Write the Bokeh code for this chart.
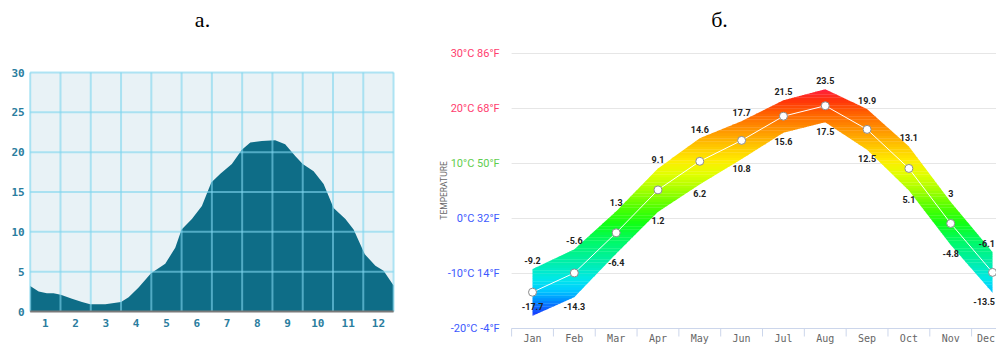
import numpy as np
from bokeh.plotting import figure
from bokeh.layouts import row
from bokeh.models import Range1d, ColumnDataSource
from bokeh.core.properties import value
from bokeh.embed import file_html
from bokeh.resources import INLINE

# ---------------- Chart "а." : water temperature ----------------
water_month = [0.0, 0.28, 0.55, 0.77, 1.01, 1.38, 1.71, 1.98, 2.48, 3.0, 3.25, 3.58,
               3.99, 4.46, 4.79, 5.0, 5.34, 5.67, 5.98, 6.28, 6.66, 6.99, 7.27, 7.65,
               8.09, 8.42, 8.76, 9.0, 9.36, 9.69, 10.02, 10.41, 10.68, 11.05, 11.4, 11.67, 12.0]
water_temp = [3.2, 2.5, 2.3, 2.3, 2.1, 1.6, 1.2, 0.9, 0.9, 1.2, 1.8, 3.0,
              4.8, 6.0, 8.0, 10.3, 11.6, 13.25, 16.2, 17.3, 18.5, 20.3, 21.2, 21.4,
              21.5, 21.0, 19.5, 18.5, 17.6, 16.0, 13.0, 11.6, 10.3, 7.2, 5.75, 5.1, 3.25]
a_month_labels = ["1", "2", "3", "4", "5", "6", "7", "8", "9", "10", "11", "12"]
a_y_ticks = [0, 5, 10, 15, 20, 25, 30]

# ---------------- Chart "б." : air temperature ----------------
months = ["Jan", "Feb", "Mar", "Apr", "May", "Jun", "Jul", "Aug", "Sep", "Oct", "Nov", "Dec"]
t_high = [-9.2, -5.6, 1.3, 9.1, 14.6, 17.7, 21.5, 23.5, 19.9, 13.1, 3.0, -6.1]
t_low = [-17.7, -14.3, -6.4, 1.2, 6.2, 10.8, 15.6, 17.5, 12.5, 5.1, -4.8, -13.5]
t_mean = [-13.4, -9.9, -2.6, 5.2, 10.4, 14.2, 18.6, 20.5, 16.2, 9.1, -0.9, -9.8]
b_y_ticks = [-20, -10, 0, 10, 20, 30]
b_y_labels = ["-20°C -4°F", "-10°C 14°F", "0°C 32°F", "10°C 50°F", "20°C 68°F", "30°C 86°F"]


def bare_fig(w, h, xr, yr):
    p = figure(width=w, height=h, output_backend="svg", toolbar_location=None, title=None,
               x_axis_location=None, y_axis_location=None,
               x_range=Range1d(*xr), y_range=Range1d(*yr),
               min_border=0, min_border_left=0, min_border_right=0,
               min_border_top=0, min_border_bottom=0)
    p.outline_line_color = None
    p.background_fill_color = "white"
    p.border_fill_color = "white"
    p.grid.visible = False
    return p


# ======================= figure а =======================
W1, H = 420, 344
A_X0, A_PXM = 29.7, 30.28        # pixel of month 0, pixels per month
A_Y0, A_PXU = 311.0, 239.0 / 30  # pixel of 0 °C, pixels per degree
p1 = bare_fig(W1, H, (-A_X0 / A_PXM, (W1 - A_X0) / A_PXM),
              (-(H - A_Y0) / A_PXU, A_Y0 / A_PXU))
TEAL_TXT = "#2a7d9e"

p1.quad(left=0, right=12, bottom=0, top=30, fill_color="#e8f2f6", line_color=None)
p1.varea(x=water_month, y1=0, y2=water_temp, fill_color="#0e6d87")

gx = list(range(13))
p1.segment(x0=gx, y0=[0] * 13, x1=gx, y1=[30] * 13, line_color="#7fd6ee",
           line_alpha=0.6, line_width=2)
gy = a_y_ticks[1:]
p1.segment(x0=[0] * len(gy), y0=gy, x1=[12] * len(gy), y1=gy, line_color="#7fd6ee",
           line_alpha=0.6, line_width=2)
p1.segment(x0=[0], y0=[0], x1=[12], y1=[0], line_color="#7a7a7a", line_width=2)

p1.text(x=[i + 0.5 for i in range(12)], y=[-11.0 / A_PXU] * 12, text=a_month_labels,
        text_font=value("DejaVu Sans Mono"), text_font_style="bold", text_font_size="11px",
        text_color=TEAL_TXT, text_align="center", text_baseline="middle")
p1.text(x=[-5.5 / A_PXM] * len(a_y_ticks), y=a_y_ticks, text=[str(v) for v in a_y_ticks],
        text_font=value("DejaVu Sans Mono"), text_font_style="bold", text_font_size="11px",
        text_color=TEAL_TXT, text_align="right", text_baseline="middle")
p1.text(x=[(202 - A_X0) / A_PXM], y=[(A_Y0 - 19) / A_PXU], text=["а."],
        text_font=value("Liberation Serif"), text_font_size="22px", text_color="black",
        text_align="center", text_baseline="middle")

# ======================= figure б =======================
W2 = 576
B_LEFT = 420.0                    # canvas offset of this figure
B_X0, B_PXM = 511.1, 41.82        # page pixel of band edge before Jan, pixels per month
B_Y0, B_PXU = 218.0, 5.5          # page pixel of 0 °C, pixels per degree
p2 = bare_fig(W2, H, ((B_LEFT - B_X0) / B_PXM, (B_LEFT + W2 - B_X0) / B_PXM),
              (-(H - B_Y0) / B_PXU, B_Y0 / B_PXU))
xpos = np.arange(12) + 0.5
x_end = (B_LEFT + W2 - B_X0) / B_PXM
x_edge = x_end - 1.5 / B_PXM     # right-most position where a text may end

# horizontal grid lines
p2.segment(x0=[0] * 6, y0=b_y_ticks, x1=[x_end] * 6, y1=b_y_ticks,
           line_color="#e6e6e6", line_width=1)

# gradient band (colour depends on temperature)
stops = [(-20, (40, 30, 240)), (-17.5, (25, 60, 255)), (-15, (0, 140, 255)), (-13, (0, 205, 255)),
         (-11, (0, 232, 232)), (-8, (0, 238, 170)), (-4, (0, 250, 100)), (-1, (16, 255, 20)),
         (2, (80, 255, 0)), (5, (160, 255, 0)), (8, (226, 255, 0)), (10.5, (255, 236, 0)),
         (13, (255, 200, 0)), (16, (255, 150, 0)), (19, (255, 100, 0)), (21.5, (255, 50, 10)),
         (24, (255, 26, 80))]


def grad_color(t):
    ts = [s[0] for s in stops]
    rgb = [int(round(np.interp(t, ts, [s[1][k] for s in stops]))) for k in range(3)]
    return "#%02x%02x%02x" % tuple(rgb)


dense_x = np.linspace(xpos[0], xpos[-1], 661)
lo_d = np.interp(dense_x, xpos, t_low)
hi_d = np.interp(dense_x, xpos, t_high)
step = 0.5
for t0 in np.arange(-18.5, 24.0, step):
    a, b = t0, t0 + step + 0.06
    y1 = np.clip(lo_d, a, b)
    y2 = np.clip(hi_d, a, b)
    if np.all(y2 - y1 <= 1e-9):
        continue
    p2.varea(x=dense_x, y1=y1, y2=y2, fill_color=grad_color(t0 + step / 2))

# x axis line and ticks
p2.segment(x0=[0], y0=[-20], x1=[x_end], y1=[-20], line_color="#ccd6eb", line_width=1)
tx = list(range(13))
p2.segment(x0=tx, y0=[-20] * 13, x1=tx, y1=[-20 - 8 / B_PXU] * 13,
           line_color="#ccd6eb", line_width=1)
month_y = -20 - 9.5 / B_PXU
month_style = dict(text_font=value("DejaVu Sans Mono"), text_font_size="10px",
                   text_color="#666666", text_baseline="middle")
p2.text(x=xpos[:11], y=[month_y] * 11, text=months[:11], text_align="center", **month_style)
p2.text(x=[x_edge], y=[month_y], text=months[11:], text_align="right", **month_style)

# y labels (coloured)
lab_colors = ["#3d5afe", "#3d5afe", "#3d5afe", "#5fce4e", "#ff3d6e", "#ff3d6e"]
p2.text(x=[-12 / B_PXM] * 6, y=b_y_ticks, text=b_y_labels, text_color=lab_colors,
        text_font=value("Roboto"), text_font_size="11px",
        text_align="right", text_baseline="middle")
p2.text(x=[(443 - B_X0) / B_PXM], y=[5.1], text=["TEMPERATURE"], angle=np.pi / 2,
        text_font=value("Roboto"), text_font_size="8.5px", text_color="#666666",
        text_align="center", text_baseline="middle")

# mean line and markers
p2.line(xpos, t_mean, line_color="white", line_width=1)
p2.scatter(xpos, t_mean, size=8, fill_color="white", line_color="#8c8c8c", line_width=1)

fmt = lambda v: ("%g" % v)
off = 9 / B_PXU
hi_y = np.array(t_high) + off
lo_y = np.maximum(np.array(t_low) - off, -16.0)
val_style = dict(text_font=value("Roboto"), text_font_style="bold", text_font_size="9px",
                 text_color="#222222", text_baseline="middle")
for ys, vals in ((hi_y, t_high), (lo_y, t_low)):
    src = ColumnDataSource(dict(x=xpos[:11], y=ys[:11], t=[fmt(v) for v in vals[:11]]))
    p2.text(x="x", y="y", text="t", source=src, text_align="center", **val_style)
    p2.text(x=[x_edge], y=[ys[11]], text=[fmt(vals[11])], text_align="right", **val_style)

p2.text(x=[(719 - B_X0) / B_PXM], y=[(B_Y0 - 19) / B_PXU], text=["б."],
        text_font=value("Liberation Serif"), text_font_size="22px", text_color="black",
        text_align="center", text_baseline="middle")

layout = row(p1, p2)
open("out.html", "w").write(file_html(layout, INLINE))
